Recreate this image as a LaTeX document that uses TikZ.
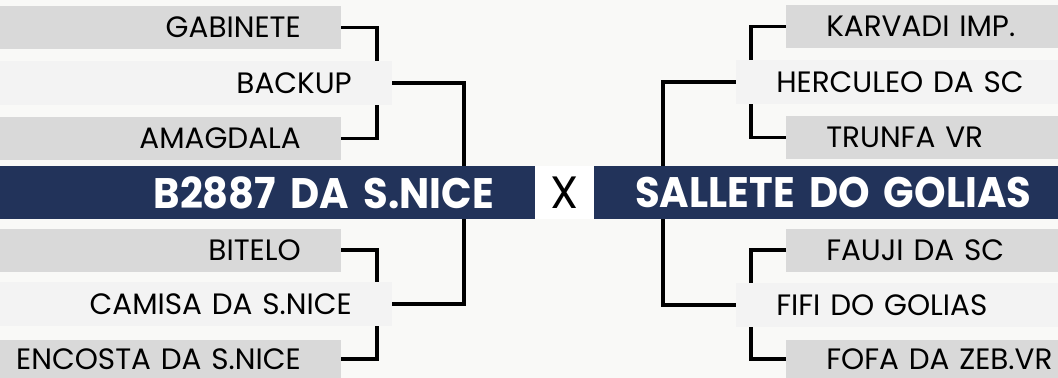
\documentclass[tikz,border=0pt]{standalone}
\usepackage{fontspec}
\setmainfont{Poppins}
\newfontfamily\bannerfont{Poppins}[FakeStretch=0.94]
\usetikzlibrary{positioning}
\definecolor{navy}{HTML}{22335A}
\definecolor{barfill}{HTML}{D9D9D9}
\definecolor{pairfill}{HTML}{F3F3F3}
\definecolor{paper}{HTML}{F9F9F7}
\pgfdeclarelayer{back}
\pgfdeclarelayer{links}
\pgfsetlayers{back,links,main}

\begin{document}
\begin{tikzpicture}[x=0.75pt,y=-0.75pt]
    \tikzstyle{sire}=[fill=barfill,inner xsep=30pt,inner ysep=0pt,minimum height=32.25pt,text width=300pt,font=\fontsize{22.1}{22.1}\selectfont]
    \tikzstyle{pair}=[sire,fill=pairfill,minimum height=33pt]
    \tikzstyle{banner}=[fill=navy,text=white,inner xsep=30.75pt,inner ysep=0pt,minimum height=39.75pt,text width=400pt,font=\bannerfont\bfseries\fontsize{32}{32}\selectfont]
    \tikzstyle{bracket}=[line width=2.6pt]
    \useasboundingbox (0,0) rectangle (1058,378);
    \begin{pgfonlayer}{back}
        \fill[paper] (0,0) rectangle (1058,378);
    \end{pgfonlayer}

    \node[sire,anchor=east,align=right] (gabinete) at (341,27.5) {GABINETE};
    \node[pair,anchor=east,align=right] (backup) at (392,83) {BACKUP};
    \node[sire,anchor=east,align=right] (amagdala) at (341,138.5) {AMAGDALA};
    \node[banner,anchor=east,align=right] (nice) at (535,192.5) {B2887 DA S.NICE};
    \node[sire,anchor=east,align=right] (bitelo) at (341,250) {BITELO};
    \node[pair,anchor=east,align=right] (camisa) at (392,304) {CAMISA DA S.NICE};
    \node[sire,anchor=east,align=right,minimum height=28.5pt] (encosta) at (341,359) {ENCOSTA DA S.NICE};

    \node[fill=white,minimum width=44.25pt,minimum height=39.75pt,inner sep=0pt,font=\fontsize{34}{34}\selectfont] (versus) at (564.5,192.5) {X};

    \node[sire,anchor=west,align=left] (karvadi) at (786,26.5) {KARVADI IMP.};
    \node[pair,anchor=west,align=left] (herculeo) at (736,82) {HERCULEO DA SC};
    \node[sire,anchor=west,align=left] (trunfa) at (786,137.5) {TRUNFA VR};
    \node[banner,anchor=west,align=left] (golias) at (594,192.5) {SALLETE DO GOLIAS};
    \node[sire,anchor=west,align=left] (fauji) at (786,250) {FAUJI DA SC};
    \node[pair,anchor=west,align=left] (fifi) at (736,305) {FIFI DO GOLIAS};
    \node[sire,anchor=west,align=left,minimum height=28.5pt] (fofa) at (786,359) {FOFA DA ZEB.VR};

    \begin{pgfonlayer}{links}
        \draw[bracket] (gabinete.east) -- ++(36,0) |- (amagdala.east);
        \draw[bracket] (bitelo.east) -- ++(36,0) |- (encosta.east);
        \draw[bracket] (backup.east) -- ++(72,0) |- (camisa.east);
        \draw[bracket] (karvadi.west) -- ++(-35,0) |- (trunfa.west);
        \draw[bracket] (fauji.west) -- ++(-35,0) |- (fofa.west);
        \draw[bracket] (herculeo.west) -- ++(-73,0) |- (fifi.west);
    \end{pgfonlayer}
\end{tikzpicture}
\end{document}
